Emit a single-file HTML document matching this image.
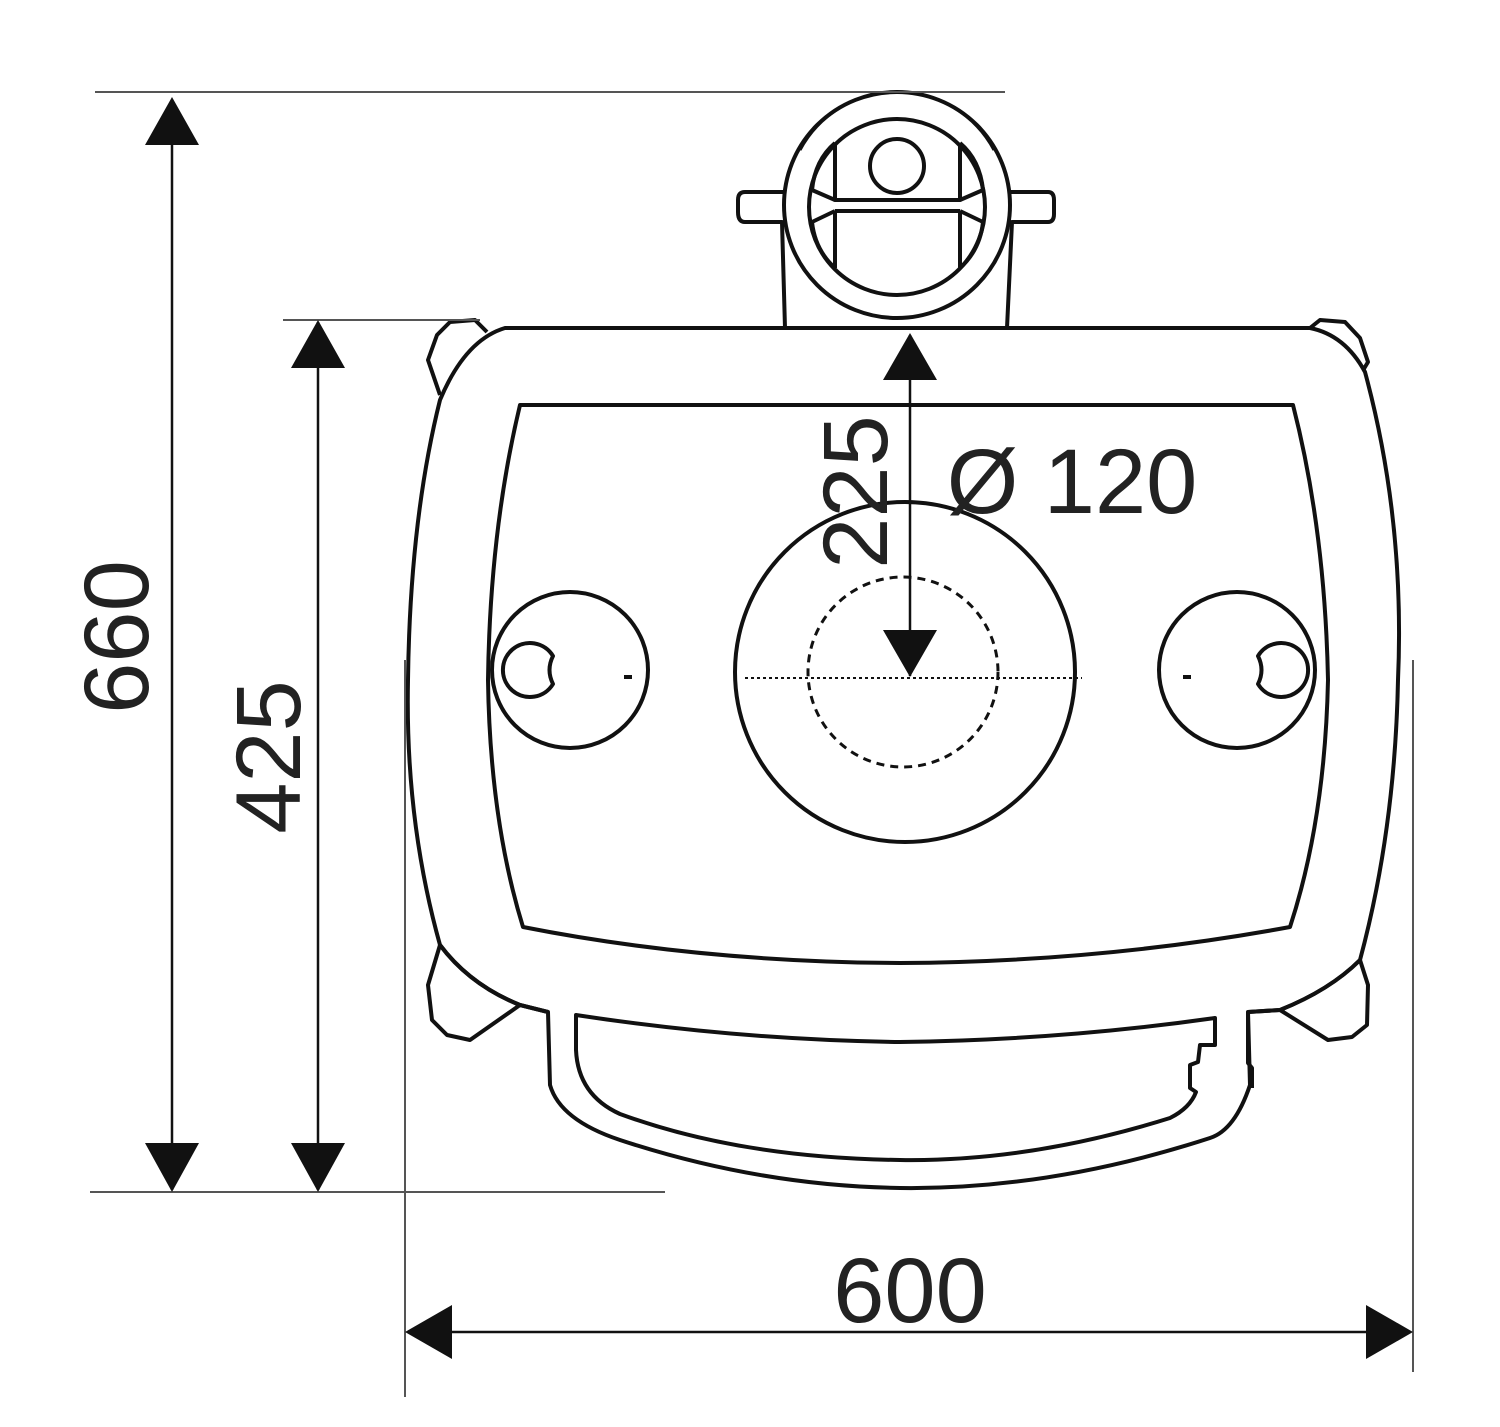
<!DOCTYPE html>
<html><head><meta charset="utf-8"><style>html,body{margin:0;padding:0;background:#fff}svg{display:block}</style></head>
<body>
<svg width="1500" height="1427" viewBox="0 0 1500 1427" xmlns="http://www.w3.org/2000/svg">
<rect width="1500" height="1427" fill="#fff"/>
<g stroke="#111" stroke-width="4" fill="none" stroke-linejoin="round">
<!-- top fixture -->
<path d="M785,328 L782,222 L745,222 Q738,222 738,212 L738,200 Q738,192 745,192 L790,192 L1005,192 L1048,192 Q1054,192 1054,200 L1054,214 Q1054,222 1048,222 L1012,222 L1007,328" fill="#fff"/>
<circle cx="897" cy="205" r="113" fill="#fff"/>
<path d="M800,150 A110,110 0 0 1 994,150" stroke-width="3"/>
<circle cx="897" cy="207" r="88"/>
<circle cx="897" cy="166" r="27"/>
<path d="M835,143 L835,200 L960,200 L960,143"/>
<path d="M835,211 L835,268 M960,211 L960,268 M835,211 L960,211"/>
<path d="M835,143 Q815,160 812,190 L835,200 M960,143 Q980,160 983,190 L960,200"/>
<path d="M835,211 L812,222 Q815,250 835,268 M960,211 L983,222 Q980,250 960,268"/>
<!-- corner tabs -->
<path d="M440,395 L428,360 L437,335 L450,322 L475,320 L487,332" fill="#fff"/>
<path d="M1310,328 L1320,320 L1345,322 L1360,338 L1368,362 L1362,372" fill="#fff"/>
<path d="M440,945 L428,985 L432,1020 L447,1035 L470,1040 L520,1005" fill="#fff"/>
<path d="M1360,960 L1368,985 L1367,1025 L1352,1037 L1328,1040 L1280,1010" fill="#fff"/>
<!-- main body -->
<path d="M505,328 L1310,328 Q1345,335 1365,372 Q1405,520 1398,680 Q1395,830 1360,960 Q1330,990 1280,1010 L1248,1012 L1250,1085 Q1235,1130 1210,1138 Q1050,1190 900,1188 Q760,1186 620,1140 Q560,1120 550,1085 L548,1012 L520,1005 Q470,985 440,945 Q405,820 408,680 Q410,520 440,400 Q465,340 505,328 Z" fill="#fff"/>
<path d="M440,945 Q470,985 520,1005 L548,1012 M1248,1012 L1280,1010 Q1330,990 1360,960"/>
<!-- inner rect -->
<path d="M520,405 L1293,405 Q1325,530 1328,680 Q1325,820 1290,927 Q1100,962 900,963 Q700,962 523,927 Q490,820 488,680 Q490,530 520,405 Z"/>
<!-- handle inner -->
<path d="M576,1015 Q740,1040 900,1042 Q1060,1040 1215,1018 L1215,1045 L1200,1045 L1198,1062 L1190,1065 L1190,1088 L1196,1092 Q1190,1108 1170,1118 Q1030,1162 900,1160 Q740,1158 620,1114 Q578,1095 576,1050 Z"/>
<path d="M1248,1012 L1248,1063 L1252,1068 L1252,1088"/>
<!-- circles -->
<circle cx="905" cy="672" r="170" fill="none"/>
<circle cx="570" cy="670" r="78"/>
<circle cx="1237" cy="670" r="78"/>
<path d="M553,656 A27,27 0 1 0 553,684 Q546,670 553,656 Z"/>
<path d="M1258,656 A27,27 0 1 1 1258,684 Q1265,670 1258,656 Z"/>
</g>
<g stroke="#111" stroke-width="3" fill="none">
<circle cx="903" cy="672" r="95" stroke-dasharray="8,6"/>
<line x1="745" y1="678" x2="1082" y2="678" stroke-width="2" stroke-dasharray="3,3"/>
<line x1="624" y1="677" x2="632" y2="677" stroke-width="4"/>
<line x1="1183" y1="677" x2="1191" y2="677" stroke-width="4"/>
</g>
<!-- dimension lines -->
<g stroke="#555" stroke-width="2" fill="none">
<line x1="95" y1="92" x2="1005" y2="92"/>
<line x1="90" y1="1192" x2="665" y2="1192"/>
<line x1="283" y1="320" x2="480" y2="320"/>
<line x1="405" y1="660" x2="405" y2="1397"/>
<line x1="1413" y1="660" x2="1413" y2="1372"/>
</g>
<g stroke="#111" stroke-width="2.5">
<line x1="172" y1="100" x2="172" y2="1190"/>
<line x1="318" y1="322" x2="318" y2="1190"/>
<line x1="408" y1="1332" x2="1410" y2="1332"/>
<line x1="910" y1="335" x2="910" y2="676"/>
</g>
<g fill="#111">
<polygon points="172,97 145,145 199,145"/>
<polygon points="172,1192 145,1143 199,1143"/>
<polygon points="318,320 291,368 345,368"/>
<polygon points="318,1192 291,1143 345,1143"/>
<polygon points="405,1332 452,1305 452,1359"/>
<polygon points="1413,1332 1366,1305 1366,1359"/>
<polygon points="910,333 883,380 937,380"/>
<polygon points="910,677 883,630 937,630"/>
</g>
<g font-family="'Liberation Sans', sans-serif" font-size="92" fill="#222" text-anchor="middle">
<text x="0" y="0" transform="translate(148,637) rotate(-90)">660</text>
<text x="0" y="0" transform="translate(300,757) rotate(-90)">425</text>
<text x="910" y="1322">600</text>
<text x="0" y="0" transform="translate(887,492) rotate(-90)">225</text>
<text x="1072" y="513">Ø 120</text>
</g>
</svg>
</body></html>
